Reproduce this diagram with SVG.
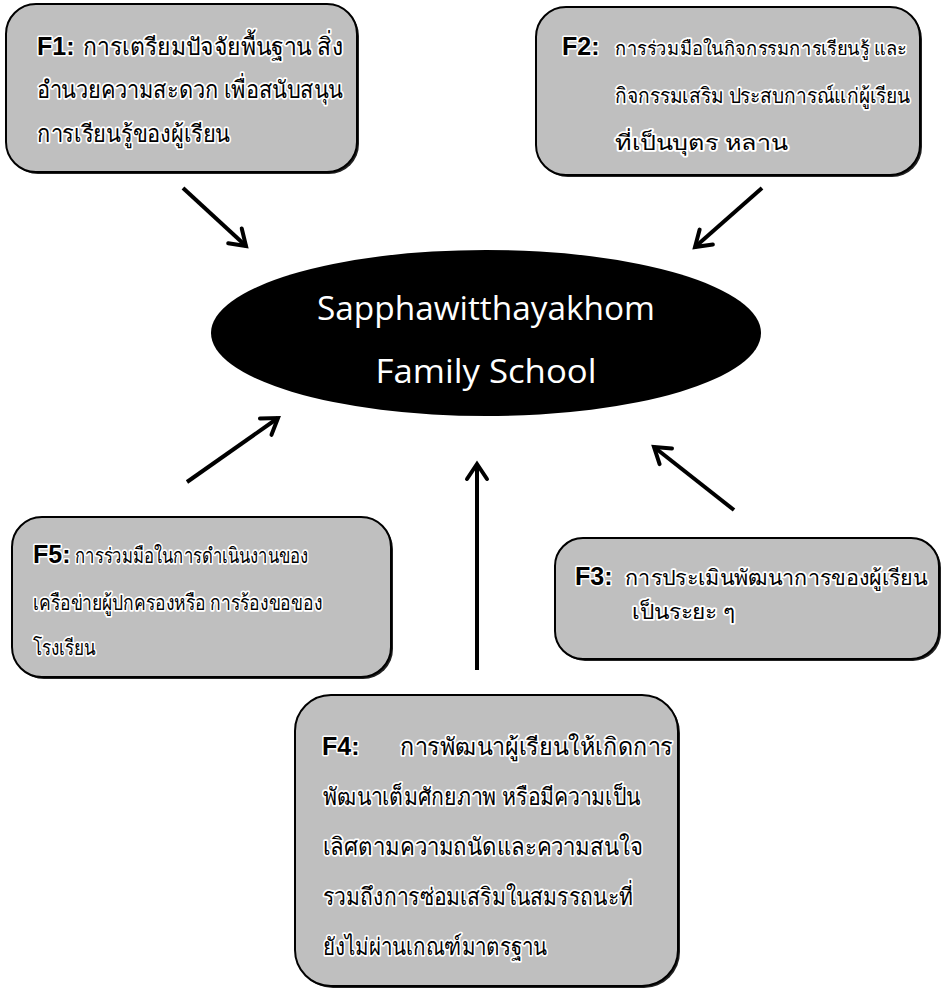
<svg xmlns="http://www.w3.org/2000/svg" width="944" height="990" viewBox="0 0 944 990">
<defs>
<style>
.box{fill:#bfbfbf;stroke:#000;stroke-width:2}
.shadow{fill:#222}
.lbl{font-family:"Liberation Sans",Arial,sans-serif;font-weight:bold;font-size:25px;fill:#000;stroke:#fff;stroke-width:3;paint-order:stroke;stroke-linejoin:round}
.th{font-family:"Noto Sans","DejaVu Sans",sans-serif;font-size:24px;fill:#000;stroke:#fff;stroke-width:3.5;paint-order:stroke;stroke-linejoin:round}
.sm{font-size:21px}
.xs{font-size:19px}
.title{font-family:"Open Sans","Noto Sans",sans-serif;font-size:32px;fill:#fff;text-anchor:middle}
.conn{stroke:#000;stroke-width:4;fill:none;marker-end:url(#ah)}
</style>
<marker id="ah" markerUnits="userSpaceOnUse" markerWidth="30" markerHeight="30" refX="0" refY="0" viewBox="-20 -15 30 30" orient="auto">
<path d="M-15,-10 L0,0 L-15,10" fill="none" stroke="#000" stroke-width="4" stroke-linecap="round"/>
</marker>
</defs>

<g id="connectors">
<line class="conn" x1="183" y1="188" x2="246" y2="246"/>
<line class="conn" x1="762" y1="188" x2="695" y2="247"/>
<line class="conn" x1="187" y1="482" x2="278" y2="418"/>
<line class="conn" x1="734" y1="510" x2="654" y2="447"/>
<line class="conn" x1="477" y1="670" x2="477" y2="464"/>
</g>

<g id="center">
<ellipse cx="486" cy="333" rx="275" ry="83" fill="#000"/>
<text class="title" x="486" y="320" textLength="338" lengthAdjust="spacingAndGlyphs">Sapphawitthayakhom</text>
<text class="title" x="486" y="383" textLength="221" lengthAdjust="spacingAndGlyphs">Family School</text>
</g>

<g id="F1">
<rect class="shadow" x="8" y="6" width="351" height="168" rx="30"/>
<rect class="box" x="6" y="4" width="351" height="168" rx="30"/>
<text class="lbl" x="37" y="55">F1:</text>
<text class="th" x="83" y="55" textLength="260" lengthAdjust="spacingAndGlyphs">การเตรียมปัจจัยพื้นฐาน สิ่ง</text>
<text class="th" x="37" y="98" textLength="306" lengthAdjust="spacingAndGlyphs">อำนวยความสะดวก เพื่อสนับสนุน</text>
<text class="th" x="37" y="142" textLength="193" lengthAdjust="spacingAndGlyphs">การเรียนรู้ของผู้เรียน</text>
</g>

<g id="F2">
<rect class="shadow" x="538" y="9" width="384" height="168" rx="30"/>
<rect class="box" x="536" y="7" width="384" height="168" rx="30"/>
<text class="lbl" x="562" y="55">F2:</text>
<text class="th xs" x="615" y="55" textLength="292" lengthAdjust="spacingAndGlyphs">การร่วมมือในกิจกรรมการเรียนรู้ และ</text>
<text class="th sm" x="615" y="103" textLength="295" lengthAdjust="spacingAndGlyphs">กิจกรรมเสริม ประสบการณ์แก่ผู้เรียน</text>
<text class="th sm" x="615" y="150" textLength="173" lengthAdjust="spacingAndGlyphs">ที่เป็นบุตร หลาน</text>
</g>

<g id="F5">
<rect class="shadow" x="14" y="519" width="379" height="160" rx="30"/>
<rect class="box" x="12" y="517" width="379" height="160" rx="30"/>
<text class="lbl" x="33" y="563">F5:</text>
<text class="th sm" x="75" y="563" textLength="233" lengthAdjust="spacingAndGlyphs">การร่วมมือในการดำเนินงานของ</text>
<text class="th sm" x="33" y="610" textLength="289" lengthAdjust="spacingAndGlyphs">เครือข่ายผู้ปกครองหรือ การร้องขอของ</text>
<text class="th sm" x="33" y="655" textLength="62" lengthAdjust="spacingAndGlyphs">โรงเรียน</text>
</g>

<g id="F3">
<rect class="shadow" x="557" y="540" width="384" height="121" rx="28"/>
<rect class="box" x="555" y="538" width="384" height="121" rx="28"/>
<text class="lbl" x="575" y="585">F3:</text>
<text class="th sm" x="625" y="585" textLength="302" lengthAdjust="spacingAndGlyphs">การประเมินพัฒนาการของผู้เรียน</text>
<text class="th sm" x="632" y="619" textLength="103" lengthAdjust="spacingAndGlyphs">เป็นระยะ ๆ</text>
</g>

<g id="F4">
<rect class="shadow" x="297" y="697" width="383" height="291" rx="36"/>
<rect class="box" x="295" y="695" width="383" height="291" rx="36"/>
<text class="lbl" x="322" y="755">F4:</text>
<text class="th" x="400" y="755" textLength="273" lengthAdjust="spacingAndGlyphs">การพัฒนาผู้เรียนให้เกิดการ</text>
<text class="th" x="323" y="805" textLength="317" lengthAdjust="spacingAndGlyphs">พัฒนาเต็มศักยภาพ หรือมีความเป็น</text>
<text class="th" x="323" y="855" textLength="320" lengthAdjust="spacingAndGlyphs">เลิศตามความถนัดและความสนใจ</text>
<text class="th" x="323" y="905" textLength="310" lengthAdjust="spacingAndGlyphs">รวมถึงการซ่อมเสริมในสมรรถนะที่</text>
<text class="th" x="323" y="955" textLength="224" lengthAdjust="spacingAndGlyphs">ยังไม่ผ่านเกณฑ์มาตรฐาน</text>
</g>
</svg>
